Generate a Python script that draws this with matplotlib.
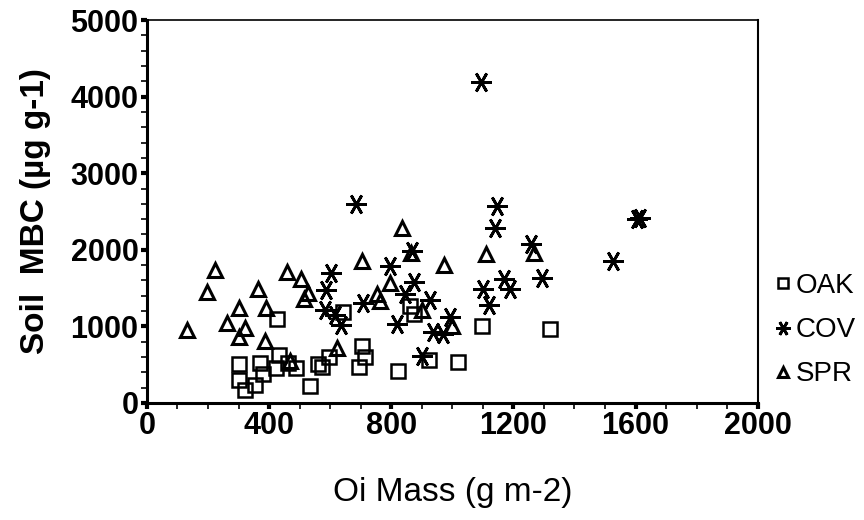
import matplotlib
matplotlib.use("Agg")
import matplotlib.pyplot as plt
from matplotlib.ticker import MultipleLocator

plt.rcParams['font.family'] = ['Liberation Sans', 'DejaVu Sans']

# OAK (squares)
oak_x = [303, 303, 320, 355, 369, 380, 424, 432, 427, 462, 488, 533, 561, 573,
         595, 643, 705, 715, 695, 823, 862, 873, 924, 1020, 1097, 1321]
oak_y = [505, 300, 165, 230, 518, 382, 460, 627, 1092, 518, 453, 218, 510, 474,
         600, 1185, 740, 605, 465, 422, 1270, 1160, 561, 530, 1000, 962]

# COV (asterisks)
cov_x = [588, 602, 582, 615, 637, 686, 708, 796, 818, 845, 867, 873, 927, 938,
         971, 993, 900, 1095, 1146, 1141, 1258, 1102, 1121, 1170, 1190, 1294,
         1526, 1605, 1615]
cov_y = [1475, 1693, 1214, 1149, 1018, 2598, 1310, 1790, 1030, 1420, 1980, 1580,
         1345, 925, 900, 1120, 610, 4195, 2576, 2280, 2080, 1484, 1279, 1615,
         1484, 1628, 1854, 2400, 2420]

# SPR (triangles)
spr_x = [131, 196, 223, 262, 301, 320, 301, 363, 389, 387, 459, 504, 528, 513,
         470, 621, 705, 752, 763, 796, 836, 974, 900, 998, 1110, 1269, 865]
spr_y = [953, 1453, 1736, 1044, 1240, 975, 860, 1484, 1244, 805, 1714, 1615,
         1432, 1354, 550, 720, 1855, 1420, 1330, 1565, 2290, 1802, 1214, 1010,
         1945, 1954, 1960]

fig = plt.figure(figsize=(8.64, 5.2), dpi=100)
ax = fig.add_axes([0.170, 0.225, 0.707, 0.7365])

ast = (6, 2, 90)
ax.plot(oak_x, oak_y, ls='none', marker='s', ms=9.5, mfc='none', mec='black',
        mew=1.8, label='OAK')
ax.plot(cov_x, cov_y, ls='none', marker=ast, ms=15, mec='black', mew=2.0,
        label='COV')
ax.plot(spr_x, spr_y, ls='none', marker='^', ms=10, mfc='none', mec='black',
        mew=2.2, label='SPR')

ax.set_xlim(0, 2000)
ax.set_ylim(0, 5000)
ax.xaxis.set_major_locator(MultipleLocator(400))
ax.xaxis.set_minor_locator(MultipleLocator(100))
ax.yaxis.set_major_locator(MultipleLocator(1000))
ax.yaxis.set_minor_locator(MultipleLocator(200))
ax.tick_params(which='major', length=4, width=3, direction='out', labelsize=22,
               pad=2)
ax.tick_params(which='minor', length=4, width=1.2, direction='out')
for lab in ax.get_xticklabels() + ax.get_yticklabels():
    lab.set_fontweight('bold')

ax.spines['left'].set_linewidth(2.2)
ax.spines['bottom'].set_linewidth(2.2)
ax.spines['top'].set_linewidth(1.2)
ax.spines['right'].set_linewidth(1.5)

ax.set_xlabel('Oi Mass (g m-2)', fontsize=24, labelpad=26)
ax.set_ylabel('Soil  MBC (µg g-1)', fontsize=24, fontweight='bold', labelpad=14)

leg = ax.legend(loc='center left', bbox_to_anchor=(1.01, 0.19), frameon=False,
                fontsize=20, markerscale=0.7, handlelength=0.6,
                handletextpad=0.15, labelspacing=0.65, borderaxespad=0)

fig.savefig('out.png', dpi=100)
